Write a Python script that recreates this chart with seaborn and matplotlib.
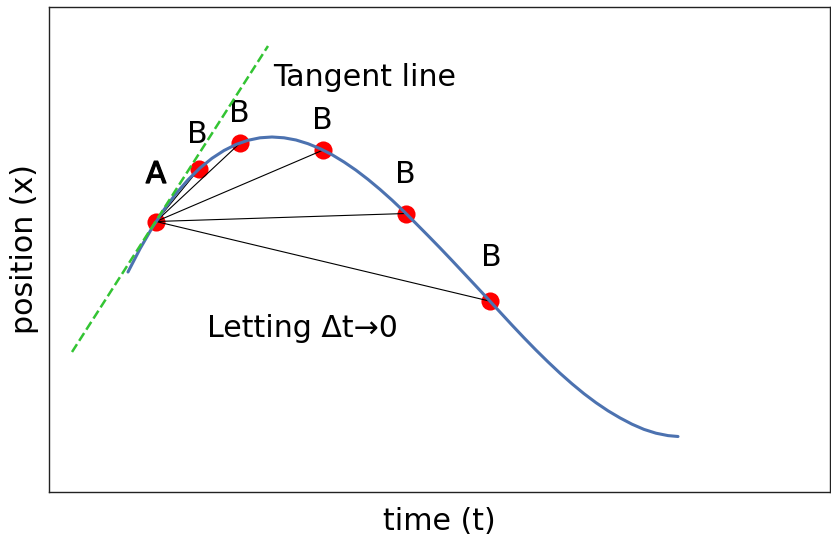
import numpy as np
import pandas as pd
import matplotlib
matplotlib.use("Agg")
import matplotlib.pyplot as plt
import matplotlib.patheffects as pe
import seaborn as sns

# curve
curve_t = [0.79, 0.91, 1.03, 1.15, 1.27, 1.39, 1.51, 1.63, 1.75, 1.87, 1.99,
           2.11, 2.23, 2.35, 2.47, 2.59, 2.71, 2.83, 2.95, 3.07, 3.19, 3.31,
           3.43, 3.55, 3.67, 3.79, 3.91, 4.03, 4.15, 4.27, 4.39, 4.51, 4.63,
           4.75, 4.87, 4.99, 5.11, 5.23, 5.35, 5.47, 5.59, 5.71, 5.83, 5.95,
           6.07, 6.19, 6.29]
curve_x = [2.195, 2.427, 2.635, 2.818, 2.979, 3.117, 3.235, 3.332, 3.410,
           3.470, 3.512, 3.537, 3.545, 3.537, 3.515, 3.478, 3.429, 3.368,
           3.295, 3.213, 3.121, 3.021, 2.914, 2.800, 2.680, 2.559, 2.436,
           2.310, 2.182, 2.054, 1.925, 1.794, 1.664, 1.537, 1.414, 1.296,
           1.183, 1.077, 0.978, 0.888, 0.807, 0.736, 0.673, 0.621, 0.583,
           0.559, 0.550]

# point A and the successive points B
point_a = (1.07, 2.70)
b_t = [1.50, 1.91, 2.74, 3.57, 4.41]
b_x = [3.225, 3.484, 3.414, 2.780, 1.903]

# tangent line end points
tangent_t = [0.23, 2.19]
tangent_x = [1.395, 4.455]

# labels
b_label_t = [1.485, 1.90, 2.737, 3.56, 4.425]
b_label_x = [3.485, 3.698, 3.625, 3.085, 2.255]

sns.set_theme(style="white")
plt.rcParams['font.family'] = ['DejaVu Sans']
plt.rcParams['text.color'] = 'black'
plt.rcParams['axes.labelcolor'] = 'black'

fig = plt.figure(figsize=(8.31, 5.37), dpi=100)
ax = fig.add_axes([49 / 831, (537 - 491.5) / 537, 781 / 831, 484.5 / 537])
ax.set_xlim(0, 7.81)
ax.set_ylim(0, 4.845)

fs = 21.6

# points
pts = pd.DataFrame({"t": [point_a[0]] + b_t, "x": [point_a[1]] + b_x})
sns.scatterplot(data=pts, x="t", y="x", color="red", s=170, linewidth=0,
                ax=ax, zorder=1)

# secant lines
for bt, bx in zip(b_t, b_x):
    seg = pd.DataFrame({"t": [point_a[0], bt], "x": [point_a[1], bx]})
    sns.lineplot(data=seg, x="t", y="x", color="black", linewidth=0.8,
                 ax=ax, zorder=2, sort=False)

# curve
cdf = pd.DataFrame({"t": curve_t, "x": curve_x})
sns.lineplot(data=cdf, x="t", y="x", color="#4C72B0", linewidth=2.2,
             ax=ax, zorder=3, sort=False)

# tangent
tdf = pd.DataFrame({"t": tangent_t, "x": tangent_x})
sns.lineplot(data=tdf, x="t", y="x", color="#33c433", linewidth=1.8,
             linestyle="--", ax=ax, zorder=4, sort=False)

ax.text(2.237, 4.055, "Tangent line", fontsize=fs, ha="left", va="baseline")
ax.text(1.58, 1.545, "Letting Δt→0", fontsize=fs, ha="left", va="baseline")
ax.text(1.07, 3.085, "A", fontsize=fs, ha="center", va="baseline",
        path_effects=[pe.withStroke(linewidth=0.9, foreground="black")])
for lt, lx in zip(b_label_t, b_label_x):
    ax.text(lt, lx, "B", fontsize=fs, ha="center", va="baseline")

ax.set_xticks([])
ax.set_yticks([])
ax.set_xlabel("time (t)", fontsize=fs, labelpad=11)
ax.set_ylabel("position (x)", fontsize=fs, labelpad=7.5)
for s in ax.spines.values():
    s.set_color("#222222")
    s.set_linewidth(1.0)

fig.savefig("out.png", dpi=100)
